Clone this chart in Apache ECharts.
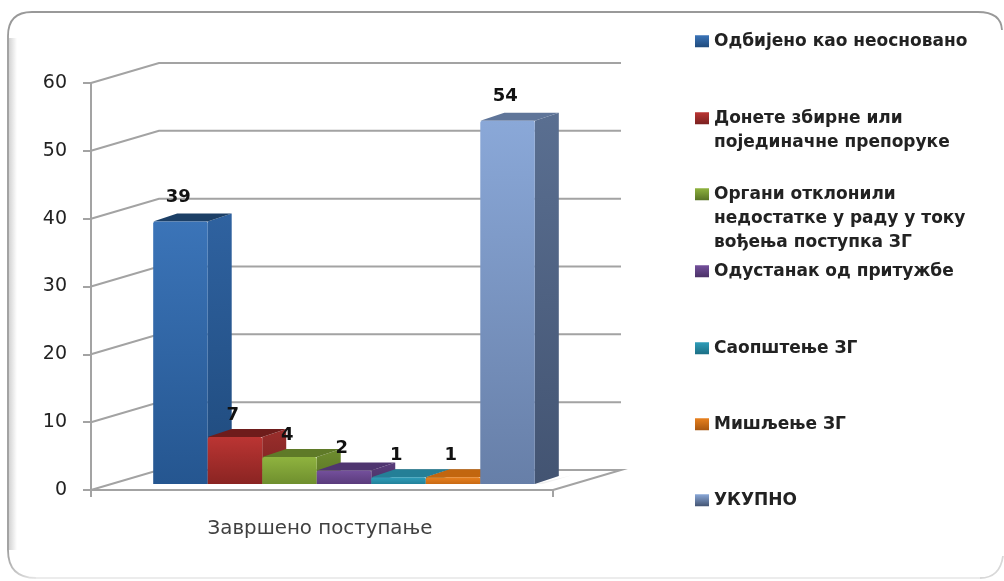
<!DOCTYPE html>
<html><head><meta charset="utf-8">
<style>html,body{margin:0;padding:0;background:#fff}#c{width:1004px;height:581px}</style>
<script src="https://cdn.jsdelivr.net/npm/echarts@6/dist/echarts.min.js"></script>
</head><body><div id="c"></div>
<script>
var categories = ['Завршено поступање'];
var seriesNames = ['Одбијено као неосновано','Донете збирне или\nпојединачне препоруке','Органи отклонили\nнедостатке у раду у току\nвођења поступка ЗГ','Одустанак од притужбе','Саопштење ЗГ','Мишљење ЗГ','УКУПНО'];
var seriesValues = [39,7,4,2,1,1,54];
var yTicks = [0,10,20,30,40,50,60];
var legendTops = [29,106,182,259,336,412,488];
var palette = [
 {f0:'#3b74b8',f1:'#255690',s0:'#2f62a0',s1:'#1f4a7c',t:'#1c3f66'},
 {f0:'#bb3533',f1:'#8a2422',s0:'#9a2e2c',s1:'#7a2120',t:'#6e1c1b'},
 {f0:'#8fb33f',f1:'#6f8f2e',s0:'#6f8d2f',s1:'#587325',t:'#5f7a28'},
 {f0:'#74509c',f1:'#5a3b7c',s0:'#5a3d7c',s1:'#4a3166',t:'#4f3570'},
 {f0:'#2f9db9',f1:'#22829b',s0:'#22829b',s1:'#1c6f85',t:'#247f97'},
 {f0:'#e8811f',f1:'#c96a14',s0:'#c96a14',s1:'#a85710',t:'#c2660f'},
 {f0:'#8aa8d8',f1:'#677fa8',s0:'#5a6f91',s1:'#435472',t:'#5f7599'}
];
var LINE = '#a3a3a3';
var WALL = {dx:68, dy:-20};
var BAR = {inset:22, lift:-6, dx:24, dy:-8, widthFrac:0.118, scale:0.992};
function vgrad(a,b){return {type:'linear',x:0,y:0,x2:0,y2:1,colorStops:[{offset:0,color:a},{offset:1,color:b}]};}

var series = [];
series.push({
  type:'custom', name:'walls', z:1, silent:true,
  data: yTicks.map(function(v){return [0,v];}),
  encode:{x:0,y:1},
  renderItem:function(params,api){
    var cs=params.coordSys, v=api.value(1), y=api.coord([0,v])[1], L=cs.x, R=cs.x+cs.width;
    var pts=[[L,y],[L+WALL.dx,y+WALL.dy],[R+WALL.dx,y+WALL.dy]];
    if(v===0) pts.push([R,y]);
    return {type:'polyline',shape:{points:pts},style:{stroke:LINE,lineWidth:2,fill:null}};
  }
});
seriesNames.forEach(function(name,i){
  var p=palette[i];
  series.push({
    type:'custom', name:name, z:2+i,
    data:[[0,seriesValues[i]]],
    encode:{x:0,y:1},
    itemStyle:{color:p.f0},
    renderItem:function(params,api){
      var v=api.value(1), base=api.coord([0,0]), top=api.coord([0,v]);
      var band=api.size([1,0])[0], w=band*BAR.widthFrac;
      var x0=base[0]+BAR.inset+(i-3.5)*w, x1=x0+w;
      var yb=base[1]+BAR.lift, yt=yb-(base[1]-top[1])*BAR.scale;
      var dx=BAR.dx, dy=BAR.dy, kids=[];
      if(i===seriesNames.length-1){
        kids.push({type:'polygon',shape:{points:[[x1,yb],[x1+dx+10,yb+dy],[x1+dx+14,yb+dy-1],[x1+8,yb]]},style:{fill:'rgba(0,0,0,0.06)'}});
      }
      kids.push(
        {type:'polygon',shape:{points:[[x1,yb],[x1+dx,yb+dy],[x1+dx,yt+dy],[x1,yt]]},style:{fill:vgrad(p.s0,p.s1)}},
        {type:'polygon',shape:{points:[[x0,yt],[x0+dx,yt+dy],[x1+dx,yt+dy],[x1,yt]]},style:{fill:p.t}},
        {type:'rect',shape:{x:x0,y:yt,width:w,height:yb-yt,r:[2,2,0,0]},style:{fill:vgrad(p.f0,p.f1)}},
        {type:'text',z2:50,style:{x:x0+25,y:yt-24+(v<10?2:0),text:String(v),align:'center',verticalAlign:'middle',fill:'#111',font:'bold 18px "DejaVu Sans"'}}
      );
      return {type:'group',children:kids};
    }
  });
});
var legends = seriesNames.map(function(name,i){
  var n=name.split('\n').length, H=n===1?12:24.4*n-12.4;
  var iconPath='path://M0 0H14V12H0Z M0 '+H+'H0.01Z';
  var colorStops=n===1?[{offset:0,color:palette[i].f0},{offset:1,color:palette[i].s1}]:[{offset:0,color:palette[i].f0},{offset:12/H,color:palette[i].s1},{offset:1,color:palette[i].s1}];
  return {show:true,
    data:[{name:name,icon:iconPath,itemStyle:{color:{type:'linear',x:0,y:0,x2:0,y2:1,colorStops:colorStops}}}],
    left:695,top:legendTops[i],orient:'vertical',padding:0,symbolKeepAspect:false,
    itemWidth:14,itemHeight:H,itemGap:0,selectedMode:false,align:'left',
    textStyle:{fontFamily:'DejaVu Sans',fontWeight:'bold',fontSize:17,color:'#222',lineHeight:24.4}};
});
var frameStroke={stroke:'#999',lineWidth:1.8,fill:null};
var faintStroke={stroke:'#ececec',lineWidth:1.8,fill:null};
var option = {
  animation:false, backgroundColor:'#fff',
  graphic:[
    {type:'rect',z:-10,shape:{x:9,y:38,width:8,height:512},style:{fill:{type:'linear',x:0,y:0,x2:1,y2:0,colorStops:[{offset:0,color:'rgba(130,130,130,0.35)'},{offset:1,color:'rgba(130,130,130,0)'}]}}},
    {type:'line',z:-9,shape:{x1:8,y1:550,x2:8,y2:36},style:frameStroke},
    {type:'bezierCurve',z:-9,shape:{x1:8,y1:36,cpx1:8,cpy1:12,x2:32,y2:12},style:frameStroke},
    {type:'line',z:-9,shape:{x1:32,y1:12,x2:978,y2:12},style:frameStroke},
    {type:'bezierCurve',z:-9,shape:{x1:978,y1:12,cpx1:1001,cpy1:12,x2:1002,y2:30},style:frameStroke},
    {type:'bezierCurve',z:-9,shape:{x1:8,y1:550,cpx1:8,cpy1:578,x2:36,y2:578},style:{stroke:{type:'linear',x:0,y:0,x2:1,y2:1,colorStops:[{offset:0,color:'#999'},{offset:1,color:'#ececec'}]},lineWidth:1.8,fill:null}},
    {type:'line',z:-9,shape:{x1:36,y1:578,x2:980,y2:578},style:faintStroke},
    {type:'bezierCurve',z:-9,shape:{x1:980,y1:578,cpx1:1000,cpy1:578,x2:1003,y2:556},style:{stroke:'#d8d8d8',lineWidth:1.8,fill:null}}
  ],
  legend:legends,
  grid:{left:91,top:83,width:462,height:407},
  xAxis:{type:'category',data:categories,
    axisTick:{show:true,length:7,lineStyle:{color:LINE,width:2}},
    axisLine:{show:true,lineStyle:{color:LINE,width:2}},
    axisLabel:{fontFamily:'DejaVu Sans',fontSize:19.8,color:'#404040',margin:29,padding:[0,4,0,0]}},
  yAxis:{type:'value',min:0,max:60,interval:10,splitLine:{show:false},
    axisLine:{show:true,lineStyle:{color:LINE,width:2}},
    axisTick:{show:true,length:8,lineStyle:{color:LINE,width:2}},
    axisLabel:{fontFamily:'DejaVu Sans',fontSize:19,color:'#222',margin:24,padding:[4,0,0,0]}},
  series:series
};
echarts.init(document.getElementById('c'),null,{renderer:'canvas'}).setOption(option);
</script></body></html>
